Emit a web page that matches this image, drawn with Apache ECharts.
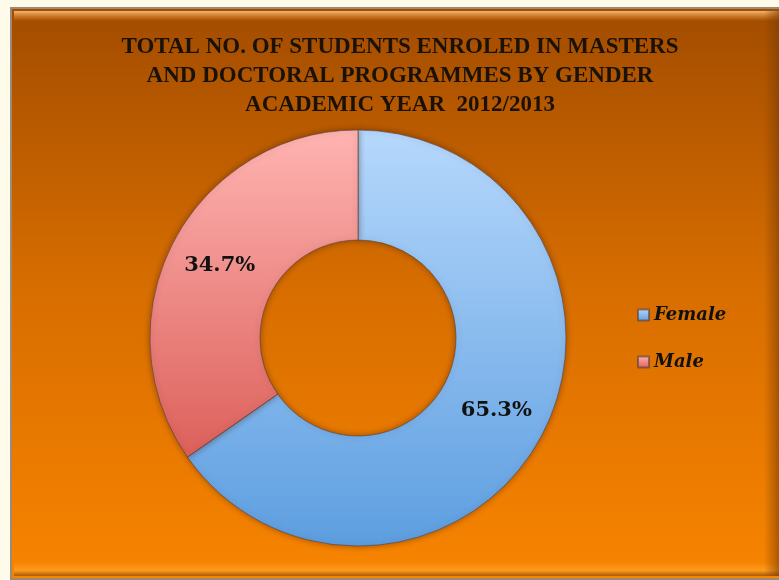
<!DOCTYPE html>
<html>
<head>
<meta charset="utf-8">
<script src="https://cdn.jsdelivr.net/npm/echarts@6/dist/echarts.min.js"></script>
<style>
  html, body { margin: 0; padding: 0; background: #fffbea; }
  #chart { width: 779px; height: 580px; }
</style>
</head>
<body>
<div id="chart"></div>
<script>
const categories = ['Female', 'Male'];
const shares = [65.3, 34.7];
const titleLines = [
  'TOTAL NO. OF STUDENTS ENROLED IN MASTERS',
  'AND DOCTORAL PROGRAMMES BY GENDER',
  'ACADEMIC YEAR  2012/2013'
];

const sliceColors = [
  ['#b6d8fc', '#5d9ee0'],
  ['#ffb4b2', '#dc605a']
];

const chart = echarts.init(document.getElementById('chart'));

const option = {
  backgroundColor: '#fffbea',
  animation: false,
  graphic: [
    {
      type: 'rect',
      shape: { x: 11, y: 8, width: 775, height: 571 },
      style: {
        fill: new echarts.graphic.LinearGradient(0, 0, 0, 1, [
          { offset: 0, color: '#a24c00' },
          { offset: 0.5, color: '#d86e00' },
          { offset: 1, color: '#f88400' }
        ]),
        stroke: '#9a8a76',
        lineWidth: 2
      },
      z: -10
    },
    {
      type: 'rect',
      shape: { x: 14, y: 11, width: 765, height: 10 },
      style: {
        fill: new echarts.graphic.LinearGradient(0, 0, 0, 1, [
          { offset: 0, color: 'rgba(255,190,120,0.9)' },
          { offset: 1, color: 'rgba(255,170,90,0)' }
        ])
      },
      z: -9
    },
    {
      type: 'rect',
      shape: { x: 14, y: 562, width: 765, height: 14 },
      style: {
        fill: new echarts.graphic.LinearGradient(0, 0, 0, 1, [
          { offset: 0, color: 'rgba(255,160,40,0)' },
          { offset: 0.6, color: 'rgba(255,160,40,0.8)' },
          { offset: 1, color: 'rgba(150,80,0,0.8)' }
        ])
      },
      z: -9
    },
    {
      type: 'rect',
      shape: { x: 764, y: 11, width: 15, height: 565 },
      style: {
        fill: new echarts.graphic.LinearGradient(0, 0, 1, 0, [
          { offset: 0, color: 'rgba(120,60,0,0)' },
          { offset: 1, color: 'rgba(120,60,0,0.6)' }
        ])
      },
      z: -9
    }
  ],
  title: {
    text: titleLines.join('\n'),
    left: 395,
    top: 28,
    textAlign: 'center',
    textStyle: {
      fontFamily: 'Liberation Serif',
      fontWeight: 'bold',
      fontSize: 23,
      lineHeight: 29,
      color: '#1a1208'
    }
  },
  legend: {
    orient: 'vertical',
    left: 632,
    top: 301,
    icon: 'rect',
    itemWidth: 11,
    itemHeight: 11,
    itemGap: 29,
    data: categories,
    textStyle: {
      fontFamily: 'DejaVu Serif',
      fontStyle: 'italic',
      fontWeight: 'bold',
      fontSize: 18,
      color: '#111'
    }
  },
  series: [
    {
      type: 'pie',
      center: [358, 338],
      radius: [98, 208],
      startAngle: 90,
      clockwise: true,
      label: {
        show: true,
        position: 'inside',
        formatter: '{c}%',
        fontFamily: 'DejaVu Serif',
        fontWeight: 'bold',
        fontSize: 21,
        color: '#111'
      },
      labelLine: { show: false },
      emphasis: { disabled: true },
      itemStyle: {
        borderColor: 'rgba(90,60,60,0.6)',
        borderWidth: 1,
        shadowBlur: 6,
        shadowColor: 'rgba(60,30,0,0.45)'
      },
      data: categories.map((name, i) => ({
        name,
        value: shares[i],
        itemStyle: {
          color: new echarts.graphic.LinearGradient(0, 0, 0, 1, [
            { offset: 0, color: sliceColors[i][0] },
            { offset: 1, color: sliceColors[i][1] }
          ])
        }
      }))
    }
  ]
};

chart.setOption(option);
</script>
</body>
</html>
